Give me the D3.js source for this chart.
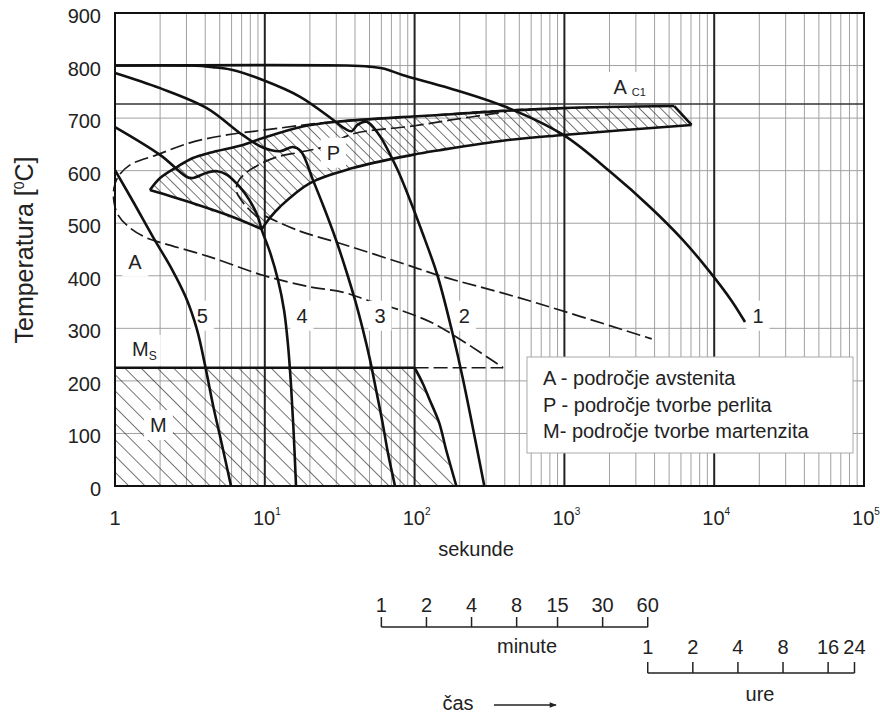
<!DOCTYPE html>
<html>
<head>
<meta charset="utf-8">
<script src="https://cdn.jsdelivr.net/npm/d3@7"></script>
<style>
  body { margin: 0; background: #fff; }
  svg { display: block; font-family: "Liberation Sans", Arial, sans-serif; }
</style>
</head>
<body>
<svg id="chart" width="880" height="713"></svg>
<script>
// Cooling curves, [time in s, temperature in degC]
const curve1 = [[1,800],[35,800],[50,798],[63,794],[83,782],[171,757],[409,721],[984,668],[2079,595],[3727,531],[6189,468],[9376,407],[12950,354],[16060,312]];
const curve2 = [[1,800],[3.2,800],[4.5,797],[6,792],[9.8,772],[17.1,741],[28.5,697],[33,683],[38,675],[41.5,687],[48,693],[58,668],[76,605],[92,548],[111,487],[142,401],[179,291],[209,207],[292,0]];
const curve3 = [[1,786],[2,757],[4.1,719],[7.1,668],[9.7,644],[12.6,637],[15.4,645],[17.4,637],[20.98,582],[25.2,525],[29.9,468],[34.8,411],[40,354],[45.2,297],[50.4,240],[55.3,183],[60.6,126],[66.4,63],[74,0]];
const curve4 = [[1,683],[2,630],[3.02,588],[3.31,586],[4.1,596],[4.8,599],[5.6,592],[6.8,569],[7.9,544],[9.0,512],[9.55,487],[10.83,445],[12.25,392],[13.44,335],[14.29,268],[14.96,192],[15.55,107],[16.16,0]];
const curve5 = [[1,601],[1.34,538],[1.79,474],[2.37,415],[2.98,358],[3.53,297],[3.99,230],[4.51,154],[5.18,78],[5.95,0]];

// Pearlite region outline
const pUpper = [[1.71,563],[2.0,586],[2.59,607],[3.31,624],[4.29,634],[7.14,649],[9.72,662],[17.9,684],[30.2,693],[96.6,703],[147,706],[409,714],[984,719],[5410,723]];
const pRight = [[5410,723],[7060,687]];
const pLower = [[7060,687],[984,668],[409,658],[147,639],[96.6,630],[38.6,605],[19.9,576],[12.6,531],[10.8,510],[9.55,489]];
const pLeft = [[9.55,489],[5.58,516],[3.31,538],[1.71,563]];

// Martensite region
const msTemp = 225;
const msEnd = 100;
const msDashEnd = 390;
const mBoundary = [[100,225],[113,196],[126,164],[146,120],[162.5,68.5],[190,0]];

// Dashed lines
const dashStart = [[1714,721],[409,715],[98.5,703],[28.5,693],[9.72,677],[5.58,668],[3.16,653],[1.9,630],[1.26,611],[1.047,588],[0.985,567],[0.985,540],[1.047,516],[1.26,491],[1.63,472],[2.09,462],[4.29,436],[9.72,401],[19.9,379],[33,369],[47.9,354],[79.4,335],[132,310],[220,272],[390,225]];
const dashLower = [[10,514],[17.1,485],[31.6,462],[97.5,417],[147,400],[501,358],[3828,280]];
const dashInner = [[8.97,511],[7.36,535],[6.5,559],[6.6,578],[7.36,594],[8.83,609],[12,626],[17.1,635],[25.9,647],[38.6,670],[97.5,685],[171,696],[409,712]];

const ac1 = 727;

// Axis ticks
const yTicks = [0,100,200,300,400,500,600,700,800,900];
const xDecades = [1,10,100,1000,10000,100000];
const minuteTicks = [1,2,4,8,15,30,60];
const hourTicks = [1,2,4,8,16,24];

// Labels in data coordinates
const curveLabels = [
  {text: "5", t: 3.83, T: 324},
  {text: "4", t: 17.7, T: 324},
  {text: "3", t: 58.7, T: 324},
  {text: "2", t: 215, T: 324},
  {text: "1", t: 19600, T: 324},
  {text: "A", t: 1.36, T: 427},
  {text: "M", t: 1.95, T: 116},
  {text: "P", t: 28.7, T: 634}
];
const legendLines = ["A - področje avstenita", "P - področje tvorbe perlita", "M- področje tvorbe martenzita"];

const svg = d3.select("#chart");
const x = d3.scaleLog().domain([1, 1e5]).range([115, 864]);
const y = d3.scaleLinear().domain([0, 900]).range([486, 13]);

const smooth = d3.line().x(d => x(d[0])).y(d => y(d[1])).curve(d3.curveCatmullRom.alpha(0.5));
const straight = d3.line().x(d => x(d[0])).y(d => y(d[1]));

// hatch patterns
const defs = svg.append("defs");
function hatch(id, gap) {
  defs.append("pattern")
      .attr("id", id)
      .attr("width", gap).attr("height", gap)
      .attr("patternUnits", "userSpaceOnUse")
      .attr("patternTransform", "rotate(-45)")
    .append("line")
      .attr("x1", 0).attr("y1", 0).attr("x2", 0).attr("y2", gap)
      .attr("stroke", "#1a1a1a").attr("stroke-width", 1.2);
}
hatch("hatchP", 7.5);
hatch("hatchM", 11.5);

const gGrid = svg.append("g");
const gFill = svg.append("g");
const gDash = svg.append("g");
const gBox = svg.append("g");
const gSolid = svg.append("g");
const gText = svg.append("g");

// grid
const minor = [];
for (let d = 0; d < 5; d++) for (let k = 2; k < 10; k++) minor.push(k * Math.pow(10, d));
gGrid.selectAll(".vminor").data(minor).enter().append("line")
    .attr("x1", d => x(d)).attr("x2", d => x(d))
    .attr("y1", y(0)).attr("y2", y(900))
    .attr("stroke", "#a0a0a0").attr("stroke-width", 1);
gGrid.selectAll(".hgrid").data(yTicks.slice(1, -1)).enter().append("line")
    .attr("x1", x(1)).attr("x2", x(1e5))
    .attr("y1", d => y(d)).attr("y2", d => y(d))
    .attr("stroke", "#a0a0a0").attr("stroke-width", 1);
gGrid.selectAll(".vmajor").data(xDecades.slice(1, -1)).enter().append("line")
    .attr("x1", d => x(d)).attr("x2", d => x(d))
    .attr("y1", y(0)).attr("y2", y(900))
    .attr("stroke", "#222").attr("stroke-width", 2);
gGrid.append("line")
    .attr("x1", x(1)).attr("x2", x(1e5))
    .attr("y1", y(ac1)).attr("y2", y(ac1))
    .attr("stroke", "#333").attr("stroke-width", 1.5);

// hatched regions
const mPoly = [[1, msTemp], ...mBoundary, [1, 0]];
gFill.append("path").attr("d", straight(mPoly) + "Z").attr("fill", "url(#hatchM)");
const pPoly = [...pUpper, ...pLower];
gFill.append("path").attr("d", straight(pPoly) + "Z").attr("fill", "url(#hatchP)");

// dashed lines
[dashStart, dashLower, dashInner, [[msEnd, msTemp], [msDashEnd, msTemp]]].forEach(pts => {
  gDash.append("path")
      .attr("d", smooth(pts))
      .attr("fill", "none").attr("stroke", "#1a1a1a")
      .attr("stroke-width", 1.7).attr("stroke-dasharray", "14,5");
});

// solid curves and outlines
[curve1, curve2, curve3, curve4, curve5, pUpper, pRight, pLower, pLeft, mBoundary, [[1, msTemp], [msEnd, msTemp]]].forEach(pts => {
  gSolid.append("path")
      .attr("d", smooth(pts))
      .attr("fill", "none").attr("stroke", "#111")
      .attr("stroke-width", 2.6).attr("stroke-linejoin", "round");
});

// frame
gSolid.append("rect")
    .attr("x", x(1)).attr("y", y(900))
    .attr("width", x(1e5) - x(1)).attr("height", y(0) - y(900))
    .attr("fill", "none").attr("stroke", "#111").attr("stroke-width", 2);

// labels with white boxes behind
function boxed(sel, padX, padY) {
  const b = sel.node().getBBox();
  gBox.append("rect")
      .attr("x", b.x - padX).attr("y", b.y - padY)
      .attr("width", b.width + 2 * padX).attr("height", b.height + 2 * padY)
      .attr("fill", "#fff");
}
curveLabels.forEach(l => {
  const t = gText.append("text")
      .attr("x", x(l.t)).attr("y", y(l.T))
      .attr("text-anchor", "middle").attr("dominant-baseline", "central")
      .attr("font-size", 20).attr("fill", "#222")
      .text(l.text);
  boxed(t, 6, 4);
});

// M_s label
const msLabel = gText.append("text")
    .attr("x", x(1.3)).attr("y", y(msTemp) - 12)
    .attr("font-size", 20).attr("fill", "#222");
msLabel.append("tspan").text("M");
msLabel.append("tspan").attr("font-size", 12).attr("dy", 4).text("S");
boxed(msLabel, 4, 3);

// A_c1 label
const acLabel = gText.append("text")
    .attr("x", x(2000) + 4).attr("y", y(ac1) - 10)
    .attr("font-size", 20).attr("fill", "#222");
acLabel.append("tspan").text("A");
acLabel.append("tspan").attr("font-size", 11).attr("dx", 5).attr("dy", 2).text("C1");
boxed(acLabel, 6, 4);

// y axis labels
gText.selectAll(".ylab").data(yTicks).enter().append("text")
    .attr("x", 101).attr("y", d => y(d) + 10)
    .attr("text-anchor", "end").attr("font-size", 20).attr("fill", "#222")
    .text(d => d);

// x axis labels
xDecades.forEach((v, i) => {
  const t = gText.append("text")
      .attr("x", x(v) + (i ? 2 : 0)).attr("y", 525)
      .attr("text-anchor", "middle").attr("font-size", 20).attr("fill", "#222");
  if (i === 0) { t.text("1"); return; }
  t.append("tspan").text("10");
  t.append("tspan").attr("font-size", 10).attr("dy", -10).text(i);
});

gText.append("text").attr("x", 476).attr("y", 556)
    .attr("text-anchor", "middle").attr("font-size", 20).attr("fill", "#222").text("sekunde");

const yt = gText.append("text")
    .attr("transform", "translate(33,250) rotate(-90)")
    .attr("text-anchor", "middle").attr("font-size", 25).attr("fill", "#222");
yt.append("tspan").text("Temperatura [");
yt.append("tspan").attr("font-size", 14).attr("dy", -9).text("0");
yt.append("tspan").attr("dy", 9).text("C]");

// minute scale
const gMin = svg.append("g");
gMin.append("line").attr("x1", x(minuteTicks[0] * 60)).attr("x2", x(60 * 60))
    .attr("y1", 627).attr("y2", 627).attr("stroke", "#222").attr("stroke-width", 1.5);
gMin.selectAll(".mt").data(minuteTicks).enter().append("line")
    .attr("x1", d => x(d * 60)).attr("x2", d => x(d * 60))
    .attr("y1", 617).attr("y2", 627).attr("stroke", "#222").attr("stroke-width", 1.5);
gMin.selectAll(".ml").data(minuteTicks).enter().append("text")
    .attr("x", d => x(d * 60)).attr("y", 612)
    .attr("text-anchor", "middle").attr("font-size", 20).attr("fill", "#222")
    .text(d => d);
gMin.append("text").attr("x", 527).attr("y", 653)
    .attr("text-anchor", "middle").attr("font-size", 20).attr("fill", "#222").text("minute");

// hour scale
const gHour = svg.append("g");
gHour.append("line").attr("x1", x(3600)).attr("x2", x(hourTicks[hourTicks.length - 1] * 3600))
    .attr("y1", 673).attr("y2", 673).attr("stroke", "#222").attr("stroke-width", 1.5);
gHour.selectAll(".ht").data(hourTicks).enter().append("line")
    .attr("x1", d => x(d * 3600)).attr("x2", d => x(d * 3600))
    .attr("y1", 662).attr("y2", 673).attr("stroke", "#222").attr("stroke-width", 1.5);
gHour.selectAll(".hl").data(hourTicks).enter().append("text")
    .attr("x", d => x(d * 3600)).attr("y", 654)
    .attr("text-anchor", "middle").attr("font-size", 20).attr("fill", "#222")
    .text(d => d);
gHour.append("text").attr("x", 760).attr("y", 701)
    .attr("text-anchor", "middle").attr("font-size", 20).attr("fill", "#222").text("ure");

// "čas" with arrow
defs.append("marker").attr("id", "arrow")
    .attr("viewBox", "0 0 10 10").attr("refX", 9).attr("refY", 5)
    .attr("markerWidth", 9).attr("markerHeight", 7).attr("orient", "auto")
    .attr("markerUnits", "userSpaceOnUse")
  .append("path").attr("d", "M0,1 L10,5 L0,9 Z").attr("fill", "#222");
svg.append("text").attr("x", 458).attr("y", 710)
    .attr("text-anchor", "middle").attr("font-size", 20).attr("fill", "#222").text("čas");
svg.append("line").attr("x1", 494).attr("x2", 556).attr("y1", 705).attr("y2", 705)
    .attr("stroke", "#222").attr("stroke-width", 1.3).attr("marker-end", "url(#arrow)");

// legend
const legend = svg.append("g");
legend.append("rect").attr("x", 527).attr("y", 357).attr("width", 326).attr("height", 96)
    .attr("fill", "#fff").attr("stroke", "#aaa").attr("stroke-width", 1);
legend.selectAll("text").data(legendLines).enter().append("text")
    .attr("x", 543).attr("y", (d, i) => 385 + i * 26.5)
    .attr("font-size", 20).attr("fill", "#222")
    .text(d => d);
</script>
</body>
</html>
